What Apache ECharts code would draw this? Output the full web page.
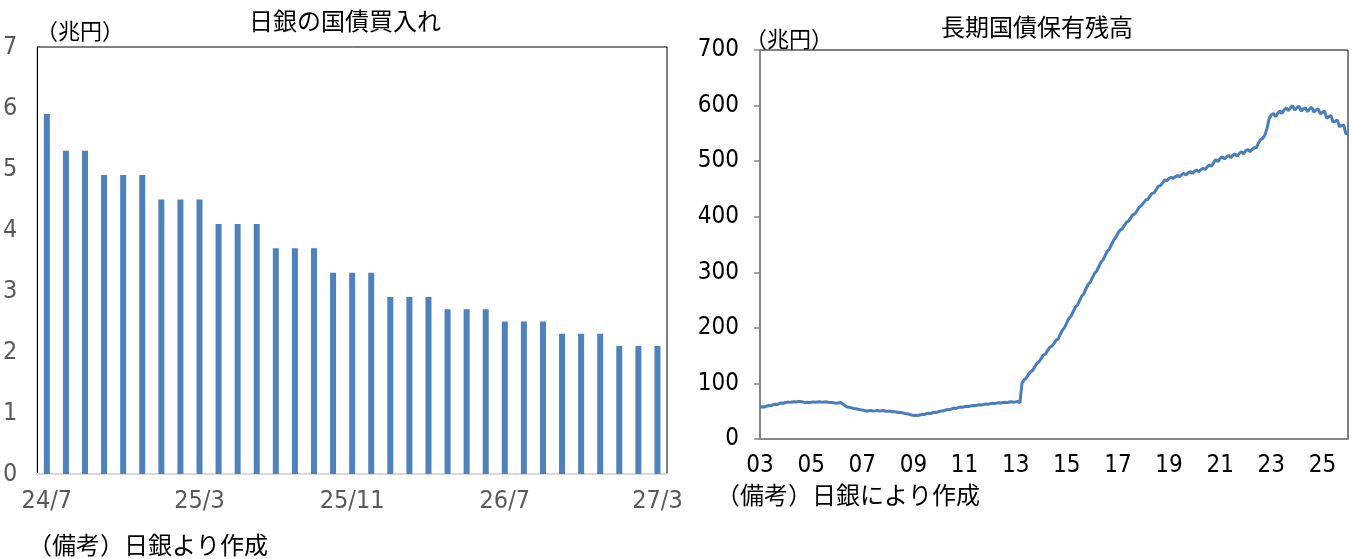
<!DOCTYPE html>
<html>
<head>
<meta charset="utf-8">
<script src="https://cdn.jsdelivr.net/npm/echarts@6/dist/echarts.min.js"></script>
<style>
html,body{margin:0;padding:0;background:#fff;}
#c{width:1352px;height:559px;}
</style>
</head>
<body>
<div id="c"></div>
<script>
// ---- Left chart: BOJ monthly JGB purchases (trillion yen) ----
const purchaseMonths = ["24/7","24/8","24/9","24/10","24/11","24/12","25/1","25/2","25/3","25/4","25/5","25/6","25/7","25/8","25/9","25/10","25/11","25/12","26/1","26/2","26/3","26/4","26/5","26/6","26/7","26/8","26/9","26/10","26/11","26/12","27/1","27/2","27/3"];
const purchaseValues = [5.9,5.3,5.3,4.9,4.9,4.9,4.5,4.5,4.5,4.1,4.1,4.1,3.7,3.7,3.7,3.3,3.3,3.3,2.9,2.9,2.9,2.7,2.7,2.7,2.5,2.5,2.5,2.3,2.3,2.3,2.1,2.1,2.1];
const purchaseYTicks = [0,1,2,3,4,5,6,7];

// ---- Right chart: BOJ long-term JGB holdings (trillion yen), monthly from 2003/01 ----
const h2003 = [57.0,58.0,57.6,59.0,60.2,59.8,61.3,62.5,62.0,63.6,64.8,64.4];
const h2004 = [65.6,66.4,65.9,66.7,67.2,66.6,67.3,67.5,66.8,65.4,66.1,65.6];
const h2005 = [66.2,66.8,66.0,66.7,67.1,66.3,66.8,67.0,66.1,65.5,65.9,64.6];
const h2006 = [64.3,65.3,65.6,62.5,59.5,57.5,57.0,56.0,55.0,54.5,53.5,52.5];
const h2007 = [52.0,51.5,50.0,50.8,51.2,50.2,50.6,51.3,50.5,50.9,51.2,50.0];
const h2008 = [49.8,50.2,49.0,49.3,48.6,47.5,47.8,47.0,45.8,45.5,44.6,43.2];
const h2009 = [42.5,42.8,42.2,43.2,44.4,44.0,45.4,46.2,45.8,47.2,48.2,47.8];
const h2010 = [49.5,50.6,50.4,52.0,53.2,52.8,54.4,55.6,55.0,56.5,57.6,57.0];
const h2011 = [58.2,59.0,58.4,59.6,60.4,59.8,61.0,61.8,61.2,62.3,63.0,62.4];
const h2012 = [63.5,64.2,63.6,64.6,65.3,64.7,65.6,66.2,65.5,66.5,67.0,66.2];
const h2013 = [66.8,67.4,65.5,101,106.5,110,116,121,123.5,130,136.5,139];
const h2014 = [145,151,153,159,165,167,172,178,180,189,196,201];
const h2015 = [209,217,221,229,237,241,249,257,261,270,278,282];
const h2016 = [290,298,302,310,318,322,330,338,342,350,358,363];
const h2017 = [370,376,378,384,390,392,398,404,405,411,417,420];
const h2018 = [425,430,431,437,442,443,449,455,456,461,466,465];
const h2019 = [469,471,469,472,474,472,476,478,475,479,481,478];
const h2020 = [482,484,481,485,487,485,490,493,491,498,503,499];
const h2021 = [505,508,504,508,510,506,511,513,509,514,517,513];
const h2022 = [519,521,517,521,524,524,533,539,541,547,559,577];
const h2023 = [583,586,580,586,590,586,592,596,591,596,600,592];
const h2024 = [596,599,590,594,596,589,594,597,588,592,594,585];
const h2025 = [588,590,577,580,582,570,572,574,562,564,565,549];
const h2026 = [550];
const holdingValues = [].concat(h2003,h2004,h2005,h2006,h2007,h2008,h2009,h2010,h2011,h2012,h2013,h2014,h2015,h2016,h2017,h2018,h2019,h2020,h2021,h2022,h2023,h2024,h2025,h2026);
const holdingMonths = [];
for (let i = 0; i < holdingValues.length; i++) {
  const y = 2003 + Math.floor(i / 12), m = i % 12 + 1;
  holdingMonths.push(y + "/" + m);
}
const holdingYTicks = [0,100,200,300,400,500,600,700];

const numFont = '"Liberation Sans Narrow","Arial Narrow","DejaVu Sans Condensed",sans-serif';
const jpFont = '"Noto Sans CJK JP","Noto Sans CJK SC",sans-serif';

const chart = echarts.init(document.getElementById('c'), null, {renderer:'canvas'});
chart.setOption({
  animation:false,
  backgroundColor:'#fff',
  grid:[
    {left:36, top:47, width:631, height:427, show:true, borderColor:'#000', borderWidth:1, backgroundColor:'transparent', containLabel:false},
    {left:760, top:50, width:588, height:389, show:true, borderColor:'#000', borderWidth:1, backgroundColor:'transparent', containLabel:false}
  ],
  xAxis:[
    {type:'category', gridIndex:0, data:purchaseMonths, boundaryGap:true,
     axisLine:{show:true, lineStyle:{color:'#d9d9d9', width:2}},
     axisTick:{show:false},
     axisLabel:{interval:7, color:'#595959', fontFamily:numFont, fontSize:25, margin:15}},
    {type:'category', gridIndex:1, data:holdingMonths, boundaryGap:false,
     axisLine:{show:true, lineStyle:{color:'#868686', width:2}},
     axisTick:{show:false},
     axisLabel:{interval:23, color:'#000', fontFamily:numFont, fontSize:24, margin:15,
       formatter:function(v){ return v.split('/')[0].slice(2); }}}
  ],
  yAxis:[
    {type:'value', gridIndex:0, min:purchaseYTicks[0], max:purchaseYTicks[purchaseYTicks.length-1], interval:1,
     axisLine:{show:true, lineStyle:{color:'#000', width:1}},
     axisTick:{show:false}, splitLine:{show:false},
     axisLabel:{color:'#595959', fontFamily:numFont, fontSize:25, margin:20}},
    {type:'value', gridIndex:1, min:holdingYTicks[0], max:holdingYTicks[holdingYTicks.length-1], interval:100,
     axisLine:{show:true, lineStyle:{color:'#868686', width:2}},
     axisTick:{show:true, inside:false, length:6, lineStyle:{color:'#868686', width:1.5}},
     splitLine:{show:false},
     axisLabel:{color:'#000', fontFamily:numFont, fontSize:24, margin:21}}
  ],
  series:[
    {type:'bar', xAxisIndex:0, yAxisIndex:0, data:purchaseValues, barWidth:6,
     itemStyle:{color:'#4f81bd'}},
    {type:'line', xAxisIndex:1, yAxisIndex:1, data:holdingValues, showSymbol:false, symbol:'none',
     lineStyle:{color:'#4a7ebb', width:3}}
  ],
  graphic:[
    {type:'text', x:345, y:21, style:{text:'日銀の国債買入れ', fontFamily:jpFont, fontSize:24, fill:'#000', align:'center', verticalAlign:'middle'}},
    {type:'text', x:36, y:31, style:{text:'（兆円）', fontFamily:jpFont, fontSize:22, fill:'#000', align:'left', verticalAlign:'middle'}},
    {type:'text', x:28, y:545, style:{text:'（備考）日銀より作成', fontFamily:jpFont, fontSize:24, fill:'#000', align:'left', verticalAlign:'middle'}},
    {type:'text', x:1037, y:27, style:{text:'長期国債保有残高', fontFamily:jpFont, fontSize:24, fill:'#000', align:'center', verticalAlign:'middle'}},
    {type:'text', x:745, y:39, style:{text:'（兆円）', fontFamily:jpFont, fontSize:22, fill:'#000', align:'left', verticalAlign:'middle'}},
    {type:'text', x:716, y:495, style:{text:'（備考）日銀により作成', fontFamily:jpFont, fontSize:24, fill:'#000', align:'left', verticalAlign:'middle'}}
  ]
});
</script>
</body>
</html>
